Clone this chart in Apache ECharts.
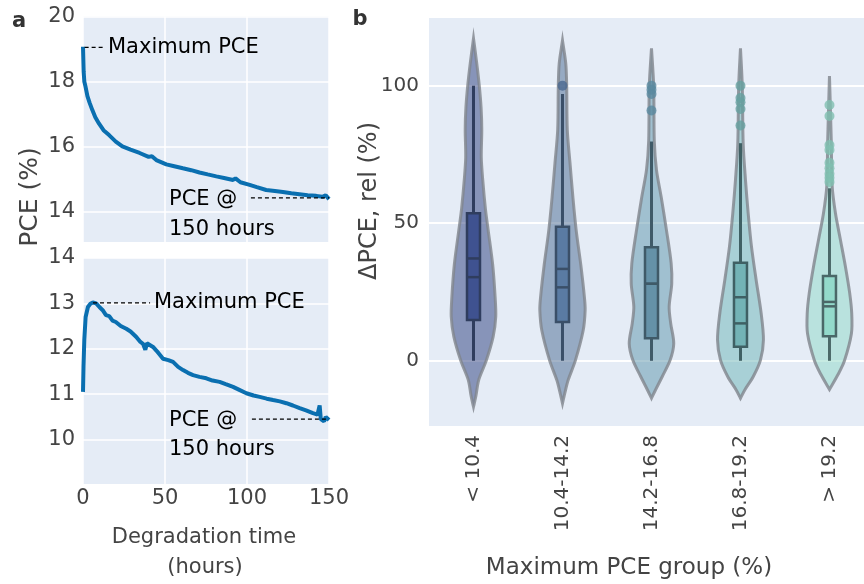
<!DOCTYPE html>
<html><head><meta charset="utf-8">
<script src="https://cdn.jsdelivr.net/npm/echarts@6/dist/echarts.min.js"></script>
<style>html,body{margin:0;padding:0;background:#fff}#c{width:864px;height:584px}</style>
</head><body><div id="c"></div>
<script>
// ---------- Panel a data (degradation traces) ----------
const topTime = [0, 0.4, 0.8, 1.5, 2.7, 4, 5.7, 7.5, 9.8, 12.5, 15.9, 20, 24, 29, 34.5, 40, 42, 44.7, 50.8, 55, 60.9, 66, 71, 76, 81.3, 86, 91.5, 93, 96, 101.6, 106, 111.7, 117, 121.9, 127, 132, 137, 142.2, 146, 148, 150];
const topPce  = [19.07, 18.3, 18.0, 17.85, 17.55, 17.35, 17.12, 16.9, 16.7, 16.5, 16.35, 16.15, 16.0, 15.9, 15.8, 15.68, 15.7, 15.58, 15.45, 15.4, 15.33, 15.27, 15.2, 15.14, 15.08, 15.03, 14.97, 15.02, 14.9, 14.82, 14.75, 14.66, 14.63, 14.6, 14.56, 14.53, 14.5, 14.48, 14.45, 14.5, 14.38];
const botTime = [0, 0.3, 0.8, 1.6, 3, 4.5, 6, 8, 10, 12, 14, 16, 18, 20, 23, 26.4, 29, 32.5, 35, 36.6, 38, 39, 42.7, 45, 48.8, 52, 54.9, 58, 61, 64, 67.1, 71, 75.2, 79, 83.3, 87, 91.5, 95, 99.6, 104, 107.7, 112, 115.9, 120, 124, 128, 132.1, 136, 140.2, 143, 144.3, 145, 147, 148, 150];
const botPce  = [11.05, 11.6, 12.2, 12.7, 12.92, 12.99, 13.02, 13.0, 12.92, 12.85, 12.74, 12.72, 12.62, 12.59, 12.5, 12.44, 12.38, 12.26, 12.15, 12.11, 11.98, 12.12, 12.04, 11.95, 11.78, 11.75, 11.71, 11.6, 11.53, 11.47, 11.42, 11.38, 11.35, 11.3, 11.27, 11.22, 11.16, 11.1, 11.02, 10.97, 10.94, 10.9, 10.87, 10.84, 10.8, 10.75, 10.69, 10.64, 10.58, 10.55, 10.75, 10.45, 10.4, 10.5, 10.43];
const topTicks = [14, 16, 18, 20];
const botTicks = [10, 11, 12, 13, 14];
const timeTicks = [0, 50, 100, 150];

// ---------- Panel b data (violins) ----------
const groups = ['< 10.4', '10.4-14.2', '14.2-16.8', '16.8-19.2', '> 19.2'];
// density outline: [value, relative width]
const shapeG1 = [[-16.7,0],[-13,2.3],[-7,5.2],[0,12.7],[8.8,19.7],[16,22.3],[23,21.7],[35,19.2],[47.5,14.7],[55,12],[66,9.2],[74,7.8],[84,8.3],[92,7.6],[100,5.8],[108,3.3],[117.2,0]];
const shapeG2 = [[-15.5,0],[-11,2.8],[-7,5.7],[0.25,13],[11,20.7],[18.4,22.7],[23,22],[35,18.3],[47.5,13.7],[60,10.3],[72,7.5],[84,4.8],[100,4.2],[108,3.3],[116.4,0]];
const shapeG3 = [[-13.6,0],[-10.6,4],[-5.8,10.7],[0.25,18.7],[6.3,22.3],[13.5,19.3],[19.6,17.7],[28,20.3],[35.4,19.7],[47.5,15],[59.6,9.7],[69.4,5],[80,2.8],[100,2.2],[113.6,0]];
const shapeG4 = [[-13.6,0],[-10.6,4.3],[-5.8,12.7],[0.25,20],[7.6,23],[17.3,20.7],[29.4,15.7],[41.6,11],[53.7,7.7],[65.8,5],[79,2.7],[100,1.8],[113.6,0]];
const shapeG5 = [[-10.4,0],[-4.9,8.7],[0,15],[9.9,22],[17.2,22.3],[24.5,20.3],[34.2,16],[43.9,11],[53.6,6],[63.5,2.7],[80,1.8],[103.5,0]];
const whiskerLow  = [0, 0, 0, 0, 0];
const q1          = [14.8, 14.1, 8.2, 5.1, 8.9];
const median      = [30.4, 26.7, 28.0, 13.6, 19.8];
const mean        = [37.2, 33.4, 28.0, 23.1, 21.4];
const q3          = [53.6, 48.7, 41.3, 35.6, 30.8];
const whiskerHigh = [100, 97, 79.7, 79.1, 62.7];
const outliersG1 = [];
const outliersG2 = [100];
const outliersG3 = [100, 98.5, 97, 91];
const outliersG4 = [100, 95.5, 94, 91.5, 85.5];
const outliersG5 = [93, 89, 78.4, 76.6, 72, 70, 68, 66.5, 65];
const deltaTicks = [0, 50, 100];

const shapes = [shapeG1, shapeG2, shapeG3, shapeG4, shapeG5];
const outliers = [outliersG1, outliersG2, outliersG3, outliersG4, outliersG5];

// ---------- styles ----------
const FONT = 'DejaVu Sans';
const BG = '#e5ecf6';
const LINE = '#0a6fb0';
const violinFill = ['rgba(41,60,124,0.5)','rgba(71,104,144,0.5)','rgba(91,148,170,0.5)','rgba(107,180,182,0.5)','rgba(141,216,198,0.5)'];
const boxFill = ['#3f5290','#5a7ba3','#6592a8','#73b3b6','#93dacb'];
const boxLine = ['#2f3d5e','#3a4f68','#3f5a68','#3f6064','#4a6868'];
const dotColor = ['#3f5290','#4a6890','#5a8aa0','#66a0a0','#7fbfb0'];

const maxW = Math.max(...shapes.flat().map(d => d[1]));
const HALF = 0.258;   // max half-width of violin in category units
const BOXHALF = 0.073;

function renderViolin(params, api) {
  const i = params.dataIndex;
  const shp = shapes[i];
  const right = shp.map(([v, w]) => api.coord([i + w / maxW * HALF, v]));
  const left = shp.slice().reverse().map(([v, w]) => api.coord([i - w / maxW * HALF, v]));
  const pts = right.concat(left);
  const lo = api.coord([i, whiskerLow[i]]);
  const hi = api.coord([i, whiskerHigh[i]]);
  const bl = api.coord([i - BOXHALF, q3[i]]);
  const br = api.coord([i + BOXHALF, q1[i]]);
  const ml = api.coord([i - BOXHALF, median[i]]);
  const mr = api.coord([i + BOXHALF, median[i]]);
  const al = api.coord([i - BOXHALF, mean[i]]);
  const ar = api.coord([i + BOXHALF, mean[i]]);
  return {
    type: 'group',
    children: [
      { type: 'polygon', shape: { points: pts, smooth: 0.3 },
        style: { fill: violinFill[i], stroke: 'rgba(128,132,140,0.8)', lineWidth: 3 } },
      { type: 'line', shape: { x1: lo[0], y1: lo[1], x2: hi[0], y2: hi[1] },
        style: { stroke: boxLine[i], lineWidth: 3 } },
      { type: 'rect', shape: { x: bl[0], y: bl[1], width: br[0] - bl[0], height: br[1] - bl[1] },
        style: { fill: boxFill[i], stroke: boxLine[i], lineWidth: 2.5 } },
      { type: 'line', shape: { x1: ml[0], y1: ml[1], x2: mr[0], y2: mr[1] },
        style: { stroke: boxLine[i], lineWidth: 2.5 } },
      { type: 'line', shape: { x1: al[0], y1: al[1], x2: ar[0], y2: ar[1] },
        style: { stroke: boxLine[i], lineWidth: 2.5 } }
    ]
  };
}

const chart = echarts.init(document.getElementById('c'), null, { renderer: 'canvas' });
const tickLabel = (size) => ({ fontFamily: FONT, fontSize: size, color: '#444' });
const whiteSplit = (w) => ({ show: true, lineStyle: { color: '#ffffff', width: w } });

const scatterData = [];
outliers.forEach((arr, i) => arr.forEach(v => scatterData.push({ value: [i, v], itemStyle: { color: dotColor[i] } })));

chart.setOption({
  animation: false,
  backgroundColor: '#ffffff',
  grid: [
    { left: 83, top: 16.5, width: 246, height: 225.5, show: true, backgroundColor: BG, borderWidth: 0 },
    { left: 83, top: 258, width: 246, height: 226, show: true, backgroundColor: BG, borderWidth: 0 },
    { left: 429, top: 18, width: 435, height: 408, show: true, backgroundColor: BG, borderWidth: 0 }
  ],
  xAxis: [
    { gridIndex: 0, type: 'value', min: 0, max: 150, axisLine: { show: false }, axisTick: { show: false, customValues: timeTicks },
      axisLabel: { show: false, customValues: timeTicks }, splitLine: whiteSplit(1.5) },
    { gridIndex: 1, type: 'value', min: 0, max: 150, axisLine: { show: false }, axisTick: { show: false, customValues: timeTicks },
      axisLabel: Object.assign({ customValues: timeTicks, margin: 4 }, tickLabel(21)), splitLine: whiteSplit(1.5) },
    { gridIndex: 2, type: 'value', min: -0.5, max: 4.388, axisLine: { show: false }, axisTick: { show: false, customValues: [0,1,2,3,4] },
      axisLabel: Object.assign({ customValues: [0,1,2,3,4], rotate: 90, margin: 9, formatter: v => groups[Math.round(v)] }, tickLabel(20)),
      splitLine: { show: false } }
  ],
  yAxis: [
    { gridIndex: 0, type: 'value', min: 13.06, max: 20, axisLine: { show: false }, axisTick: { show: false, customValues: topTicks },
      axisLabel: Object.assign({ customValues: topTicks, margin: 8 }, tickLabel(21)), splitLine: whiteSplit(1.5) },
    { gridIndex: 1, type: 'value', min: 9.02, max: 14, axisLine: { show: false }, axisTick: { show: false, customValues: botTicks },
      axisLabel: Object.assign({ customValues: botTicks, margin: 8 }, tickLabel(21)), splitLine: whiteSplit(1.5) },
    { gridIndex: 2, type: 'value', min: -23.7, max: 124.6, axisLine: { show: false }, axisTick: { show: false, customValues: deltaTicks },
      axisLabel: Object.assign({ customValues: deltaTicks, margin: 10 }, tickLabel(20)), splitLine: whiteSplit(2) }
  ],
  series: [
    { type: 'line', xAxisIndex: 0, yAxisIndex: 0, data: topTime.map((t, k) => [t, topPce[k]]), showSymbol: false,
      lineStyle: { color: LINE, width: 4 }, z: 3 },
    { type: 'line', xAxisIndex: 1, yAxisIndex: 1, data: botTime.map((t, k) => [t, botPce[k]]), showSymbol: false,
      lineStyle: { color: LINE, width: 4 }, z: 3 },
    { type: 'custom', xAxisIndex: 2, yAxisIndex: 2, renderItem: renderViolin,
      data: groups.map((g, i) => [i, median[i]]), encode: { x: 0, y: 1 }, z: 2 },
    { type: 'scatter', xAxisIndex: 2, yAxisIndex: 2, data: scatterData, symbolSize: 10, z: 4 }
  ]
});

// ---------- annotations and titles ----------
const px = (g, x, y) => chart.convertToPixel({ gridIndex: g }, [x, y]);
const dash = (g, x1, x2, y) => {
  const a = px(g, x1, y), b = px(g, x2, y);
  return { type: 'line', shape: { x1: a[0], y1: a[1], x2: b[0], y2: b[1] },
    style: { stroke: '#000', lineWidth: 1.3, lineDash: [4, 3] }, z: 10 };
};
const txt = (text, x, y, size, opts) => Object.assign({
  type: 'text', x: x, y: y, z: 10,
  style: { text: text, fontFamily: FONT, fontSize: size, fill: '#000', align: 'left', verticalAlign: 'middle' }
}, opts || {});

const tMax = px(0, 0, 19.05), tEnd = px(0, 0, 14.42);
const bMax = px(1, 0, 13.01), bEnd = px(1, 0, 10.45);
const els = [
  dash(0, 1, 13.5, 19.05), txt('Maximum PCE', 108, tMax[1], 21),
  dash(0, 102.4, 150, 14.42), txt('PCE @', 169, tEnd[1] + 2, 21), txt('150 hours', 169, tEnd[1] + 32, 21),
  dash(1, 6.1, 40.9, 13.01), txt('Maximum PCE', 154, bMax[1], 21),
  dash(1, 103, 150, 10.45), txt('PCE @', 169, bEnd[1] + 1, 21), txt('150 hours', 169, bEnd[1] + 30, 21)
];
const title = (text, x, y, size, rot, extra) => ({
  type: 'text', x: x, y: y, rotation: rot || 0, z: 10,
  style: Object.assign({ text: text, fontFamily: FONT, fontSize: size, fill: '#444', align: 'center', verticalAlign: 'middle' }, extra || {})
});
els.push(
  title('a', 19, 22, 21, 0, { fontWeight: 'bold', fill: '#333' }),
  title('b', 360, 20, 21, 0, { fontWeight: 'bold', fill: '#333' }),
  title('PCE (%)', 30, 197, 25, Math.PI / 2),
  title('Degradation time', 204, 538, 21),
  title('(hours)', 205, 568, 21),
  title('ΔPCE, rel (%)', 370, 201, 24, Math.PI / 2),
  title('Maximum PCE group (%)', 629, 568, 23)
);
chart.setOption({ graphic: els });
</script>
</body></html>
